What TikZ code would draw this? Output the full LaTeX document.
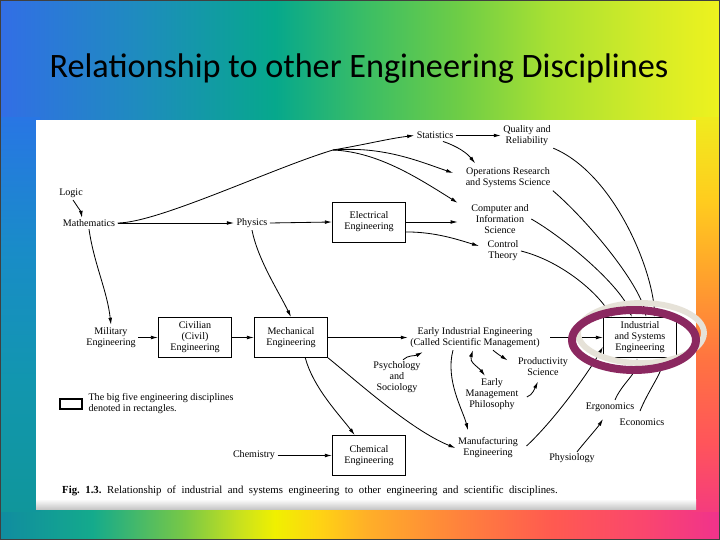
\documentclass[tikz,border=0pt]{standalone}
\usepackage{fontspec}
\usepackage{xcolor}
\usepackage{tikz}
\usetikzlibrary{calc}
\usetikzlibrary{arrows.meta}
\setmainfont{Liberation Serif}
\newfontfamily\titlefont{Carlito}

% slide background colours
\definecolor{topA}{RGB}{50,110,230}
\definecolor{topB}{RGB}{30,140,190}
\definecolor{topC}{RGB}{6,168,140}
\definecolor{topD}{RGB}{60,190,100}
\definecolor{topE}{RGB}{110,205,70}
\definecolor{topF}{RGB}{170,225,50}
\definecolor{topG}{RGB}{210,235,40}
\definecolor{topH}{RGB}{238,242,30}
\definecolor{botA}{RGB}{16,140,160}
\definecolor{botB}{RGB}{20,170,140}
\definecolor{botC}{RGB}{120,200,70}
\definecolor{botD}{RGB}{200,225,30}
\definecolor{botE}{RGB}{240,240,0}
\definecolor{botF}{RGB}{255,210,20}
\definecolor{botG}{RGB}{255,175,40}
\definecolor{botH}{RGB}{255,130,60}
\definecolor{botI}{RGB}{255,90,80}
\definecolor{botJ}{RGB}{250,70,110}
\definecolor{botK}{RGB}{240,50,140}
\definecolor{lftA}{RGB}{40,118,228}
\definecolor{lftB}{RGB}{25,140,200}
\definecolor{lftC}{RGB}{18,150,175}
\definecolor{lftD}{RGB}{16,150,155}
\definecolor{rgtA}{RGB}{240,235,30}
\definecolor{rgtB}{RGB}{255,205,30}
\definecolor{rgtC}{RGB}{255,160,45}
\definecolor{rgtD}{RGB}{255,115,65}
\definecolor{rgtE}{RGB}{255,85,90}
\definecolor{rgtF}{RGB}{245,60,125}
\definecolor{ringpurple}{RGB}{139,40,96}
\definecolor{ringgrey}{RGB}{230,226,216}

\pgfdeclarehorizontalshading{topband}{100bp}{color(0bp)=(topA); color(25bp)=(topA);
  color(34.7bp)=(topB); color(44.1bp)=(topC); color(50.5bp)=(topD); color(56.9bp)=(topE);
  color(63.3bp)=(topF); color(69.7bp)=(topG); color(75bp)=(topH); color(100bp)=(topH)}
\pgfdeclarehorizontalshading{bottomband}{100bp}{color(0bp)=(botA); color(25bp)=(botA);
  color(31.4bp)=(botB); color(37.8bp)=(botC); color(41.6bp)=(botD); color(44.1bp)=(botE);
  color(47.3bp)=(botF); color(50.5bp)=(botG); color(56.9bp)=(botH); color(63.3bp)=(botI);
  color(69.7bp)=(botJ); color(75bp)=(botK); color(100bp)=(botK)}
\pgfdeclareverticalshading{leftband}{100bp}{color(0bp)=(lftD); color(25bp)=(lftD);
  color(41.6bp)=(lftC); color(58.3bp)=(lftB); color(75bp)=(lftA); color(100bp)=(lftA)}
\pgfdeclareverticalshading{rightband}{100bp}{color(0bp)=(rgtF); color(25bp)=(rgtF);
  color(33.9bp)=(rgtE); color(44.2bp)=(rgtD); color(54.4bp)=(rgtC); color(64.7bp)=(rgtB);
  color(75bp)=(rgtA); color(100bp)=(rgtA)}

\begin{document}
\begin{tikzpicture}[x=0.03cm,y=-0.03cm,
    lbl/.style={font=\fontsize{8.6}{9.4}\selectfont, align=center, inner sep=2pt},
    disc/.style={lbl, draw, line width=0.7pt, minimum width=2.2cm, minimum height=1.2cm, inner sep=1pt},
    arr/.style={line width=0.7pt, -{Latex[length=6pt,width=3.2pt]}},
    dblarr/.style={line width=0.7pt, {Latex[length=6pt,width=3.2pt]}-{Latex[length=6pt,width=3.2pt]}}]
            \useasboundingbox (0,0) rectangle (720,540);
            % Slide background
            \shade[shading=topband] (0,0) rectangle (720,125);%
            \shade[shading=bottomband] (0,505) rectangle (720,540);%
            \shade[shading=leftband] (0,118) rectangle (40,511);%
            \shade[shading=rightband] (692,118) rectangle (720,511);%
            \draw[black!75, line width=1.5pt] (0,0) rectangle (720,540);%
            \fill[white] (36,120) rectangle (696,509);%
            \shade[top color=white, bottom color=black!22] (36,499) rectangle (696,509);%

            % Title
            \node[font=\titlefont\fontsize{29.2}{32}\selectfont] (title) at (359,69) {Relationship to other Engineering Disciplines};%

            % Marking the disciplines
            \node[lbl] (logic) at (71,193) {Logic};%
            \node[lbl] (math) at (89,223) {Mathematics};%
            \node[lbl] (phys) at (252,223) {Physics};%
            \node[disc] (elec) at (369,222) {Electrical\\Engineering};%
            \node[lbl] (stat) at (435,135.5) {Statistics};%
            \node[lbl] (qual) at (527,135.5) {Quality and\\Reliability};%
            \node[lbl] (opres) at (508,178) {Operations Research\\and Systems Science};%
            \node[lbl] (cis) at (500,219) {Computer and\\Information\\Science};%
            \node[lbl] (ctrl) at (503,251) {Control\\Theory};%
            \node[lbl] (mil) at (111,337.5) {Military\\Engineering};%
            \node[disc] (civ) at (195,337.5) {Civilian\\(Civil)\\Engineering};%
            \node[disc] (mech) at (291,337.5) {Mechanical\\Engineering};%
            \node[lbl] (early) at (475,337.5) {Early Industrial Engineering\\(Called Scientific Management)};%
            \node[lbl] (prod) at (543,367) {Productivity\\Science};%
            \node[lbl] (psych) at (397,377) {Psychology\\and\\Sociology};%
            \node[lbl] (mgmt) at (492,394) {Early\\Management\\Philosophy};%
            \node[lbl] (manuf) at (488,448) {Manufacturing\\Engineering};%
            \node[lbl] (physio) at (572,458) {Physiology};%
            \node[lbl] (ergo) at (610,407) {Ergonomics};%
            \node[lbl] (econ) at (642,422) {Economics};%
            \node[lbl] (chemy) at (254,455.5) {Chemistry};%
            \node[disc] (chem) at (369,455.5) {Chemical\\Engineering};%
            \node[disc] (ise) at (640,337.5) {Industrial\\and Systems\\Engineering};%

            % Marking the legend
            \node[draw, line width=1.1pt, minimum width=0.66cm, minimum height=0.3cm, inner sep=0pt] (key) at (71,404) {};%
            \node[lbl, anchor=west, align=left] (keytext) at (86,404) {The big five engineering disciplines\\denoted in rectangles.};%

            % Caption
            \node[anchor=west, inner sep=0pt, font=\fontsize{9.2}{10}\selectfont] (caption) at (62,491)
              {\hbox to 423pt{\textbf{Fig.\ 1.3.}\ Relationship of industrial and systems engineering to other engineering and scientific disciplines.}};%

            % Drawing arrows from Logic and Mathematics
            \draw[arr] ($(logic.south)+(2,0)$) .. controls +(4,6) and +(-1,-6) .. ($(math.north)+(-7,1)$);%
            \draw[arr] (math.east) -- (phys.west);%
            \draw[arr] (math.south) .. controls +(5,35) and +(-4,-35) .. (mil.north);%
            \coordinate (br) at (333,150);%
            \draw[line width=0.7pt] (math.east) .. controls +(40,0) and +(-60,18) .. (br);%
            \draw[arr] (br) .. controls +(30,-5) and +(-25,3) .. (stat.west);%
            \draw[arr] (br) .. controls +(50,-4) and +(-35,-12) .. ($(opres.west)+(-10,-5)$);%
            \draw[arr] (br) .. controls +(45,2) and +(-40,-25) .. ($(cis.north west)+(-11,1)$);%

            % Drawing arrows from Physics and Electrical Engineering
            \draw[arr] (phys.east) -- (elec.west);%
            \draw[arr] (phys.south) .. controls +(6,30) and +(-12,-25) .. (mech.north);%
            \draw[arr] (elec.east) -- ($(cis.west |- elec.east)+(-11,0)$);%
            \draw[arr] (elec.-15) .. controls +(30,0) and +(-20,-6) .. ($(ctrl.west)+(-6,-5)$);%

            % Drawing arrows from Statistics
            \draw[arr] (stat.east) -- (qual.west);%
            \draw[arr] ($(stat.south)+(8,0)$) .. controls +(15,5) and +(-8,-10) .. ($(opres.north west)+(12,-2)$);%

            % Drawing the chain Military - Civil - Mechanical
            \draw[arr] (mil.east) -- (civ.west);%
            \draw[arr] (civ.east) -- (mech.west);%
            \draw[arr] (mech.east) -- (early.west);%
            \draw[arr] (mech.-55) .. controls +(8,30) and +(-15,-20) .. (chem.125);%
            \draw[arr] (mech.south east) .. controls +(25,20) and +(-45,-18) .. (manuf.west);%
            \draw[arr] (chemy.east) -- (chem.west);%

            % Drawing arrows round Early Industrial Engineering
            \draw[arr] ($(early.south)+(-22,0)$) .. controls +(-8,30) and +(-5,-20) .. ($(manuf.north)+(-20,-5)$);%
            \draw[dblarr] ($(early.south)+(-2,0)$) .. controls +(-4,12) and +(-6,-8) .. ($(mgmt.north)+(-7,0)$);%
            \draw[arr] ($(early.south)+(18,0)$) .. controls +(6,5) and +(-6,-4) .. ($(prod.north west)+(-8,5)$);%
            \draw[arr] ($(mgmt.east)+(6,3)$) .. controls +(6,-2) and +(-3,6) .. ($(prod.south)+(-5,3)$);%
            \draw[arr] ($(psych.north)+(6,1)$) .. controls +(5,-5) and +(-8,4) .. ($(early.south west)+(15,2)$);%
            \draw[arr] ($(physio.north)+(5,1)$) .. controls +(8,-10) and +(-5,8) .. ($(ergo.south)+(-7,5)$);%

            % Drawing arrows into Industrial and Systems Engineering
            \draw[arr] (qual.south east) .. controls +(60,25) and +(-3,-50) .. (ise.54);%
            \draw[arr] (opres.south east) .. controls +(35,30) and +(-8,-35) .. (ise.73);%
            \draw[arr] (cis.east) .. controls +(35,20) and +(-10,-30) .. (ise.112);%
            \draw[arr] (ctrl.east) .. controls +(40,10) and +(-15,-25) .. (ise.144);%
            \draw[arr] ($(early.east)+(8,0)$) -- (ise.west);%
            \draw[arr] ($(manuf.east)+(6,-2)$) .. controls +(30,-28) and +(-12,22) .. (ise.194);%
            \draw[arr] ($(ergo.north)+(5,0)$) .. controls +(6,-15) and +(0,15) .. ($(ise.south)+(-3,0)$);%
            \draw[arr] ($(econ.north)+(-2,-5)$) .. controls +(8,-20) and +(0,15) .. ($(ise.south)+(22,0)$);%

            % Marking Industrial and Systems Engineering by rings
            \draw[ringgrey, line width=5pt] (641,333) ellipse [x radius=63, y radius=30];%
            \draw[ringpurple, line width=6.8pt] (634,340) ellipse [x radius=62, y radius=30];%
\end{tikzpicture}
\end{document}
